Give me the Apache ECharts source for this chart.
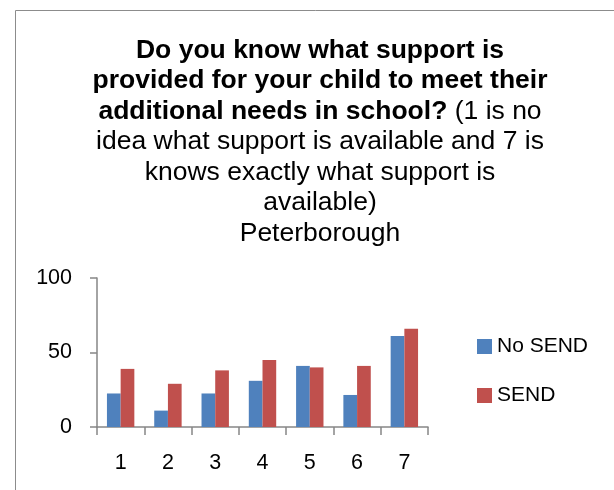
<!DOCTYPE html>
<html><head><meta charset="utf-8">
<script src="https://cdn.jsdelivr.net/npm/echarts@6/dist/echarts.min.js"></script>
<style>html,body{margin:0;padding:0;background:#fff}#c{width:614px;height:490px}</style>
</head><body><div id="c"></div>
<script>
var categories = ['1','2','3','4','5','6','7'];
var noSend = [22.5, 11, 22.5, 31, 41, 21.5, 61];
var send = [39, 29, 38, 45, 40, 41, 66];
var seriesNames = ['No SEND', 'SEND'];
var yTicks = [0, 50, 100];

var chart = echarts.init(document.getElementById('c'));
var axisFont = 'Liberation Sans, Arial, sans-serif';
chart.setOption({
  animation: false,
  graphic: [{
    type: 'rect', silent: true,
    shape: {x: 15.5, y: 10.5, width: 700, height: 600},
    style: {fill: 'none', stroke: '#8c8c8c', lineWidth: 1}
  }],
  title: {
    left: 315, top: 30, textAlign: 'center',
    text: '{b|Do you know what support is}\n{b|provided for your child to meet their}\n{b|additional needs in school?}{n| (1 is no}\n{n|idea what support is available and 7 is}\n{n|knows exactly what support is}\n{n|available)}\n{n|Peterborough}',
    textStyle: {
      rich: {
        b: {fontFamily: 'Liberation Sans, Arial, sans-serif', fontWeight: 'bold', fontSize: 26.5, color: '#000', lineHeight: 30.5},
        n: {fontFamily: 'Liberation Sans, Arial, sans-serif', fontWeight: 'normal', fontSize: 26.5, color: '#000', lineHeight: 30.5}
      }
    }
  },
  legend: {
    orient: 'vertical', left: 472, top: 331,
    itemWidth: 15, itemHeight: 15, itemGap: 28,
    icon: 'rect',
    data: seriesNames,
    textStyle: {fontFamily: axisFont, fontSize: 21, color: '#000'}
  },
  grid: {left: 97, right: 186, top: 278, bottom: 63, containLabel: false},
  xAxis: {
    type: 'category', data: categories,
    axisLine: {lineStyle: {color: '#868686', width: 1.5}},
    axisTick: {show: true, length: 8, lineStyle: {color: '#868686', width: 1.5}},
    axisLabel: {fontFamily: axisFont, fontSize: 21.5, color: '#000', margin: 25}
  },
  yAxis: {
    type: 'value', min: yTicks[0], max: yTicks[2], interval: 50,
    splitLine: {show: false},
    axisLine: {show: true, lineStyle: {color: '#868686', width: 1.5}},
    axisTick: {show: true, length: 7, lineStyle: {color: '#868686', width: 1.5}},
    axisLabel: {fontFamily: axisFont, fontSize: 21.5, color: '#000', margin: 25}
  },
  series: [
    {name: seriesNames[0], type: 'bar', data: noSend, barWidth: 13.7, barGap: '0%',
     itemStyle: {color: '#4F81BD'}},
    {name: seriesNames[1], type: 'bar', data: send, barWidth: 13.7, barGap: '0%',
     itemStyle: {color: '#C0504D'}}
  ]
});
</script></body></html>
